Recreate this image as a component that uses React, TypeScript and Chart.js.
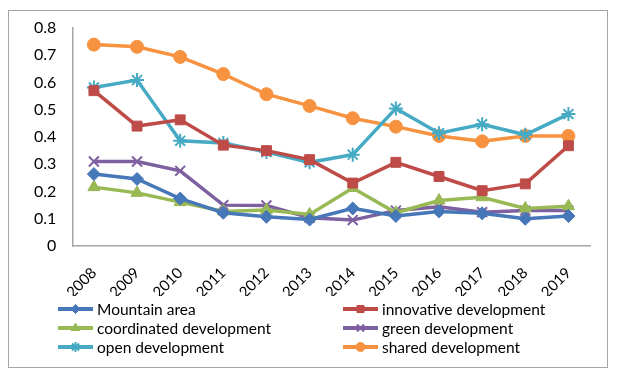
import React, { useEffect, useRef } from "react";
import { Chart, registerables } from "chart.js";
import { drawPoint } from "chart.js/helpers";

Chart.register(...registerables);

const years = ["2008", "2009", "2010", "2011", "2012", "2013", "2014", "2015", "2016", "2017", "2018", "2019"];
const mountainArea = [0.264, 0.246, 0.174, 0.122, 0.107, 0.097, 0.138, 0.11, 0.127, 0.12, 0.1, 0.11];
const innovativeDevelopment = [0.57, 0.44, 0.463, 0.37, 0.35, 0.317, 0.231, 0.307, 0.255, 0.203, 0.228, 0.368];
const coordinatedDevelopment = [0.216, 0.195, 0.161, 0.127, 0.132, 0.116, 0.213, 0.122, 0.167, 0.179, 0.138, 0.146];
const greenDevelopment = [0.31, 0.31, 0.276, 0.15, 0.149, 0.104, 0.095, 0.13, 0.144, 0.124, 0.13, 0.13];
const openDevelopment = [0.582, 0.609, 0.386, 0.378, 0.345, 0.307, 0.335, 0.505, 0.414, 0.447, 0.408, 0.484];
const sharedDevelopment = [0.739, 0.731, 0.694, 0.631, 0.557, 0.514, 0.469, 0.438, 0.404, 0.384, 0.404, 0.404];

const yTicksMax = 0.8;
const yStep = 0.1;

const FONT = "Lato, 'Liberation Sans', sans-serif";

const seriesDefs = [
  { label: "Mountain area", data: mountainArea, color: "#4677B8", style: "rectRot", radius: 6.5, bw: 1, lr: 4.5 },
  { label: "innovative development", data: innovativeDevelopment, color: "#BE4B48", style: "rect", radius: 7, bw: 1, lr: 5 },
  { label: "coordinated development", data: coordinatedDevelopment, color: "#98B954", style: "triangle", radius: 7, bw: 1, lr: 5 },
  { label: "green development", data: greenDevelopment, color: "#7D60A0", style: "crossRot", radius: 7, bw: 2, lr: 5 },
  { label: "open development", data: openDevelopment, color: "#46AAC5", style: "star", radius: 7, bw: 2, lr: 5 },
  { label: "shared development", data: sharedDevelopment, color: "#F69240", style: "circle", radius: 6.5, bw: 1, lr: 4.5 },
];

const legendPlugin = {
  id: "twoColLegend",
  afterDraw(chart: any) {
    const ctx = chart.ctx;
    const cols = [49, 334];
    const rows = [298, 317, 336];
    chart.data.datasets.forEach((ds: any, i: number) => {
      const x = cols[i % 2];
      const y = rows[Math.floor(i / 2)];
      const def = seriesDefs[i];
      ctx.save();
      ctx.strokeStyle = ds.borderColor;
      ctx.lineWidth = 4;
      ctx.beginPath();
      ctx.moveTo(x, y);
      ctx.lineTo(x + 35, y);
      ctx.stroke();
      ctx.fillStyle = ds.pointBackgroundColor;
      ctx.strokeStyle = ds.pointBorderColor;
      ctx.lineWidth = ds.pointBorderWidth;
      drawPoint(ctx, { pointStyle: ds.pointStyle, rotation: 0, radius: def.lr, borderWidth: ds.pointBorderWidth }, x + 17.5, y);
      ctx.fillStyle = "#000";
      ctx.font = `15.5px ${FONT}`;
      ctx.textBaseline = "middle";
      ctx.textAlign = "left";
      ctx.fillText(ds.label, x + 39, y + 1);
      ctx.restore();
    });
  },
};

export default function App() {
  const ref = useRef<HTMLCanvasElement>(null);
  useEffect(() => {
    if (!ref.current) return;
    const chart = new Chart(ref.current, {
      type: "line",
      data: {
        labels: years,
        datasets: seriesDefs.map((s) => ({
          label: s.label,
          data: s.data,
          borderColor: s.color,
          backgroundColor: s.color,
          pointBackgroundColor: s.color,
          pointBorderColor: s.color,
          pointStyle: s.style as any,
          pointRadius: s.radius,
          pointBorderWidth: s.bw,
          borderWidth: 3.5,
          tension: 0,
          fill: false,
        })),
      },
      options: {
        animation: false,
        responsive: true,
        maintainAspectRatio: false,
        layout: { padding: { top: 17, right: 17, bottom: 71, left: 9 } },
        plugins: {
          legend: { display: false },
          tooltip: { enabled: false },
        },
        scales: {
          x: {
            offset: true,
            grid: { display: false, drawTicks: false },
            border: { display: true, color: "#A6A6A6", width: 1.5 },
            ticks: {
              minRotation: 45,
              maxRotation: 45,
              color: "#000",
              padding: 18,
              font: { size: 15, family: FONT },
            },
            afterFit: (scale: any) => {
              scale.height = 50;
            },
          },
          y: {
            min: 0,
            max: yTicksMax,
            grid: { display: false, drawTicks: false },
            border: { display: true, color: "#A6A6A6", width: 1.5 },
            ticks: {
              stepSize: yStep,
              color: "#000",
              padding: 16,
              font: { size: 16, family: FONT },
            },
            afterFit: (scale: any) => {
              scale.paddingTop = 0;
              scale.paddingBottom = 0;
            },
          },
        },
      },
      plugins: [legendPlugin],
    });
    return () => chart.destroy();
  }, []);
  return (
    <div style={{ paddingTop: 2 }}>
      <div
        style={{
          width: 600,
          height: 358,
          boxSizing: "border-box",
          border: "1px solid #A6A6A6",
          background: "#fff",
        }}
      >
        <div style={{ position: "relative", width: 598, height: 356 }}>
          <canvas ref={ref} />
        </div>
      </div>
    </div>
  );
}
